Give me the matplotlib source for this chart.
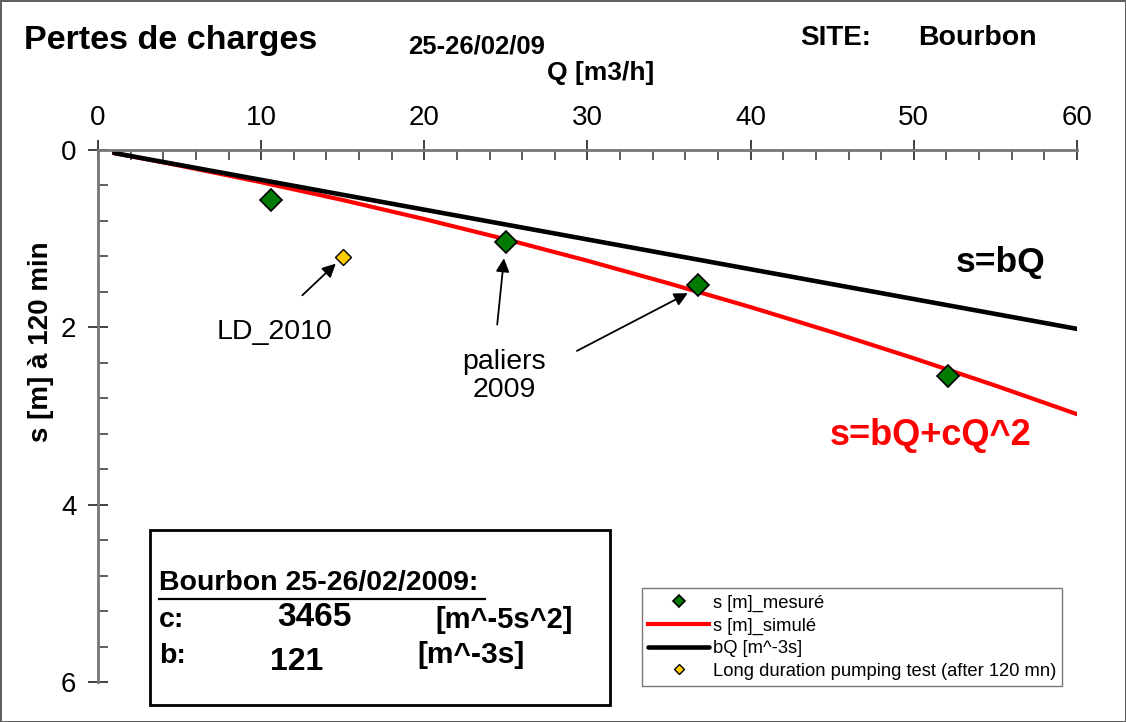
import matplotlib
matplotlib.use('Agg')
import matplotlib.pyplot as plt
from matplotlib.ticker import MultipleLocator
from matplotlib.patches import Rectangle

plt.rcParams['font.family'] = ['Liberation Sans', 'DejaVu Sans']

# data
q_mesure = [10.6, 25.0, 36.8, 52.1]
s_mesure = [0.56, 1.04, 1.52, 2.55]

q_ld = [15.0]
s_ld = [1.21]

q_sim = [1, 5, 10, 15, 20, 25, 30, 35, 40, 45, 50, 55, 60]
s_sim = [0.034, 0.175, 0.363, 0.564, 0.779, 1.007, 1.249, 1.505, 1.772, 2.054, 2.349, 2.657, 2.979]

q_bq = [1, 60]
s_bq = [0.034, 2.017]

fig = plt.figure(figsize=(11.26, 7.22), dpi=100)
fig.patch.set_edgecolor('#606060')
fig.patch.set_linewidth(2)

ax = fig.add_axes([0.087, 0.0554, 0.8695, 0.7368])
ax.plot(q_sim, s_sim, color='#ff0000', lw=3, label='s [m]_simulé', zorder=2)
ax.plot(q_bq, s_bq, color='black', lw=3.3, label='bQ [m^-3s]', zorder=2, solid_capstyle='round')
ax.plot(q_mesure, s_mesure, ls='none', marker='D', ms=11.5, mfc='#007a00', mec='black',
        mew=1.2, label='s [m]_mesuré', zorder=3)
ax.plot(q_ld, s_ld, ls='none', marker='D', ms=8.5, mfc='#ffcc00', mec='black',
        mew=1.0, label='Long duration pumping test (after 120 mn)', zorder=3)

ax.set_xlim(0, 60)
ax.set_ylim(6, 0)
ax.xaxis.tick_top()
ax.xaxis.set_major_locator(MultipleLocator(10))
ax.xaxis.set_minor_locator(MultipleLocator(2))
ax.yaxis.set_major_locator(MultipleLocator(2))
ax.yaxis.set_minor_locator(MultipleLocator(0.4))
ax.tick_params(which='major', direction='inout', length=15, width=1.3, color='#333333',
               labelsize=20)
ax.tick_params(which='minor', direction='in', length=7, width=1.1, color='#333333')
ax.tick_params(axis='x', which='major', pad=6)
ax.tick_params(axis='y', which='major', pad=8)
for side in ['right', 'bottom']:
    ax.spines[side].set_visible(False)
for side in ['top', 'left']:
    ax.spines[side].set_color('#777777')
    ax.spines[side].set_linewidth(2)
ax.patch.set_alpha(0)

# annotations
arrow = dict(arrowstyle='-|>', color='black', lw=1.3, mutation_scale=20)
ax.annotate('', xy=(14.7, 1.26), xytext=(12.4, 1.66), arrowprops=arrow)
ax.text(10.8, 2.05, 'LD_2010', fontsize=20.5, ha='center', va='center')
ax.annotate('', xy=(24.9, 1.19), xytext=(24.45, 2.0), arrowprops=arrow)
ax.annotate('', xy=(36.3, 1.6), xytext=(29.2, 2.28), arrowprops=arrow)
ax.text(24.9, 2.55, 'paliers\n2009', fontsize=20.5, ha='center', va='center', linespacing=1.12)
ax.text(55.3, 1.27, 's=bQ', fontsize=25.5, fontweight='bold', ha='center', va='center')
ax.text(51.0, 3.22, 's=bQ+cQ^2', fontsize=26, fontweight='bold', color='#ff0000',
        ha='center', va='center')

leg = ax.legend(handles=[ax.lines[2], ax.lines[0], ax.lines[1], ax.lines[3]],
                loc='lower left', bbox_to_anchor=((642 - 98) / 979, (682 - 686) / 532.0),
                borderaxespad=0, fontsize=13.2, frameon=True, fancybox=False, edgecolor='#555555',
                handlelength=3.3, handletextpad=0.2, borderpad=0.35, labelspacing=0.3,
                markerscale=0.55)
leg.get_frame().set_linewidth(1.0)

# header texts
fig.text(24 / 1126, 1 - 40 / 722, 'Pertes de charges', fontsize=24.5, fontweight='bold', va='center')
fig.text(408 / 1126, 1 - 46 / 722, '25-26/02/09', fontsize=18.5, fontweight='bold', va='center')
fig.text(601 / 1126, 1 - 73 / 722, 'Q [m3/h]', fontsize=19, fontweight='bold', va='center', ha='center')
fig.text(800 / 1126, 1 - 38 / 722, 'SITE:', fontsize=20, fontweight='bold', va='center')
fig.text(918 / 1126, 1 - 38 / 722, 'Bourbon', fontsize=20.5, fontweight='bold', va='center')
fig.text(41 / 1126, 1 - 342 / 722, 's [m] à 120 min', fontsize=20, fontweight='bold',
         rotation=90, va='center', ha='center')

# parameter box
fig.patches.append(Rectangle((150 / 1126, 1 - 705 / 722), 460 / 1126, 175 / 722,
                             transform=fig.transFigure, fill=True, facecolor='white',
                             edgecolor='black', lw=2, zorder=5))
fig.text(159 / 1126, 1 - 583 / 722, 'Bourbon 25-26/02/2009:', fontsize=20.5, fontweight='bold',
         va='center', zorder=6)
fig.add_artist(plt.Line2D([159 / 1126, 485 / 1126], [1 - 599 / 722, 1 - 599 / 722],
                          color='black', lw=1.6, zorder=6))
fig.text(159 / 1126, 1 - 620 / 722, 'c:', fontsize=20.5, fontweight='bold', va='center', zorder=6)
fig.text(277 / 1126, 1 - 618 / 722, '3465', fontsize=24, fontweight='bold', va='center', zorder=6)
fig.text(435 / 1126, 1 - 620 / 722, '[m^-5s^2]', fontsize=21, fontweight='bold', va='center', zorder=6)
fig.text(159 / 1126, 1 - 656 / 722, 'b:', fontsize=20.5, fontweight='bold', va='center', zorder=6)
fig.text(270 / 1126, 1 - 662 / 722, '121', fontsize=23, fontweight='bold', va='center', zorder=6)
fig.text(417 / 1126, 1 - 655 / 722, '[m^-3s]', fontsize=21.5, fontweight='bold', va='center', zorder=6)

fig.savefig('out.png', dpi=100)
